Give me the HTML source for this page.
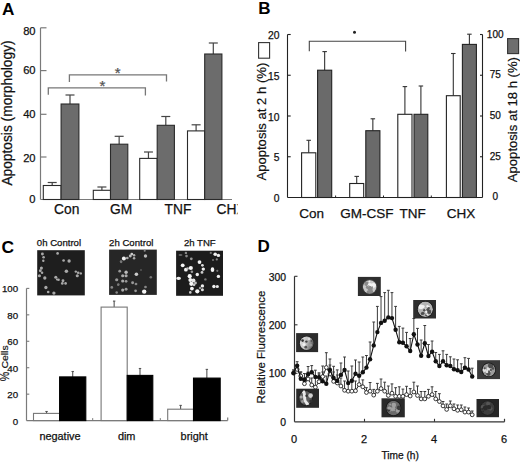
<!DOCTYPE html>
<html><head><meta charset="utf-8"><style>
html,body{margin:0;padding:0;background:#fff;}
svg{display:block;}
text{font-family:"Liberation Sans",sans-serif;}
</style></head><body>
<svg width="520" height="462" viewBox="0 0 520 462">
<rect x="0" y="0" width="520" height="462" fill="#fff"/>
<text x="2.0" y="15.4" font-size="17.2" text-anchor="start" font-weight="bold" fill="#000" >A</text>
<line x1="40.5" y1="27.8" x2="40.5" y2="199.5" stroke="#7a7a7a" stroke-width="1.2"/>
<line x1="40.5" y1="199.5" x2="232" y2="199.5" stroke="#7a7a7a" stroke-width="1.2"/>
<line x1="40.5" y1="27.8" x2="46.5" y2="27.8" stroke="#7a7a7a" stroke-width="1.2"/>
<line x1="40.5" y1="70.6" x2="46.5" y2="70.6" stroke="#7a7a7a" stroke-width="1.2"/>
<line x1="40.5" y1="114.3" x2="46.5" y2="114.3" stroke="#7a7a7a" stroke-width="1.2"/>
<line x1="40.5" y1="157" x2="46.5" y2="157" stroke="#7a7a7a" stroke-width="1.2"/>
<text x="35.6" y="34.8" font-size="11.2" text-anchor="end" font-weight="normal" fill="#111" stroke="#111" stroke-width="0.25" >80</text>
<text x="35.6" y="73.9" font-size="11.2" text-anchor="end" font-weight="normal" fill="#111" stroke="#111" stroke-width="0.25" >60</text>
<text x="35.6" y="118.3" font-size="11.2" text-anchor="end" font-weight="normal" fill="#111" stroke="#111" stroke-width="0.25" >40</text>
<text x="35.6" y="161.8" font-size="11.2" text-anchor="end" font-weight="normal" fill="#111" stroke="#111" stroke-width="0.25" >20</text>
<text x="35.6" y="203.3" font-size="11.2" text-anchor="end" font-weight="normal" fill="#111" stroke="#111" stroke-width="0.25" >0</text>
<text transform="translate(11.6,185.6) rotate(-90)" font-size="13.75" fill="#111" stroke="#111" stroke-width="0.25">Apoptosis (morphology)</text>
<line x1="52.2" y1="182.5" x2="52.2" y2="185.5" stroke="#444" stroke-width="1.2"/>
<line x1="47.7" y1="182.5" x2="56.7" y2="182.5" stroke="#444" stroke-width="1.2"/>
<rect x="43.3" y="185.5" width="17.800000000000004" height="14.0" fill="#fff" stroke="#2a2a2a" stroke-width="1.1"/>
<line x1="70.0" y1="95" x2="70.0" y2="104.0" stroke="#444" stroke-width="1.2"/>
<line x1="65.5" y1="95" x2="74.5" y2="95" stroke="#444" stroke-width="1.2"/>
<rect x="61.1" y="104.0" width="17.800000000000004" height="95.5" fill="#6c6c6c" stroke="#2a2a2a" stroke-width="1.1"/>
<line x1="101.9" y1="187" x2="101.9" y2="190.3" stroke="#444" stroke-width="1.2"/>
<line x1="97.4" y1="187" x2="106.4" y2="187" stroke="#444" stroke-width="1.2"/>
<rect x="93.3" y="190.3" width="17.200000000000003" height="9.199999999999989" fill="#fff" stroke="#2a2a2a" stroke-width="1.1"/>
<line x1="119.15" y1="136.3" x2="119.15" y2="144.2" stroke="#444" stroke-width="1.2"/>
<line x1="114.65" y1="136.3" x2="123.65" y2="136.3" stroke="#444" stroke-width="1.2"/>
<rect x="110.5" y="144.2" width="17.299999999999997" height="55.30000000000001" fill="#6c6c6c" stroke="#2a2a2a" stroke-width="1.1"/>
<line x1="148.45" y1="152" x2="148.45" y2="158.4" stroke="#444" stroke-width="1.2"/>
<line x1="143.95" y1="152" x2="152.95" y2="152" stroke="#444" stroke-width="1.2"/>
<rect x="139.7" y="158.4" width="17.5" height="41.099999999999994" fill="#fff" stroke="#2a2a2a" stroke-width="1.1"/>
<line x1="165.8" y1="116.5" x2="165.8" y2="125.3" stroke="#444" stroke-width="1.2"/>
<line x1="161.3" y1="116.5" x2="170.3" y2="116.5" stroke="#444" stroke-width="1.2"/>
<rect x="157.2" y="125.3" width="17.200000000000017" height="74.2" fill="#6c6c6c" stroke="#2a2a2a" stroke-width="1.1"/>
<line x1="196.1" y1="124.8" x2="196.1" y2="130.9" stroke="#444" stroke-width="1.2"/>
<line x1="191.6" y1="124.8" x2="200.6" y2="124.8" stroke="#444" stroke-width="1.2"/>
<rect x="187.5" y="130.9" width="17.19999999999999" height="68.6" fill="#fff" stroke="#2a2a2a" stroke-width="1.1"/>
<line x1="213.3" y1="43" x2="213.3" y2="54" stroke="#444" stroke-width="1.2"/>
<line x1="208.8" y1="43" x2="217.8" y2="43" stroke="#444" stroke-width="1.2"/>
<rect x="204.7" y="54" width="17.200000000000017" height="145.5" fill="#6c6c6c" stroke="#2a2a2a" stroke-width="1.1"/>
<polyline points="48.3,94.8 48.3,87.9 145.4,87.9 145.4,95.4" fill="none" stroke="#777" stroke-width="1.3"/>
<polyline points="69.4,82 69.4,74.8 166.5,74.8 166.5,81.5" fill="none" stroke="#777" stroke-width="1.3"/>
<text x="117.7" y="78.2" font-size="15" text-anchor="middle" font-weight="normal" fill="#555" stroke="#555" stroke-width="0.25" >*</text>
<text x="102.3" y="91.0" font-size="15" text-anchor="middle" font-weight="normal" fill="#555" stroke="#555" stroke-width="0.25" >*</text>
<clipPath id="cA"><rect x="0" y="0" width="237.6" height="231"/></clipPath>
<text x="54.1" y="213.9" font-size="13.8" fill="#111" stroke="#111" stroke-width="0.25" clip-path="url(#cA)">Con</text>
<text x="110.1" y="213.9" font-size="13.8" fill="#111" stroke="#111" stroke-width="0.25" clip-path="url(#cA)">GM</text>
<text x="164.5" y="213.9" font-size="13.8" fill="#111" stroke="#111" stroke-width="0.25" clip-path="url(#cA)">TNF</text>
<text x="216.6" y="213.9" font-size="13.8" fill="#111" stroke="#111" stroke-width="0.25" clip-path="url(#cA)">CHX</text>
<text x="258.2" y="13.6" font-size="17" text-anchor="start" font-weight="bold" fill="#000" >B</text>
<line x1="287.5" y1="34.5" x2="287.5" y2="197.5" stroke="#222" stroke-width="1.1"/>
<line x1="287.5" y1="197.5" x2="482.5" y2="197.5" stroke="#222" stroke-width="1.1"/>
<line x1="482.5" y1="34.5" x2="482.5" y2="197.5" stroke="#222" stroke-width="1.1"/>
<line x1="287.5" y1="34.5" x2="290.7" y2="34.5" stroke="#222" stroke-width="1.1"/>
<line x1="480.0" y1="34.5" x2="482.5" y2="34.5" stroke="#222" stroke-width="1.1"/>
<line x1="287.5" y1="75.25" x2="290.7" y2="75.25" stroke="#222" stroke-width="1.1"/>
<line x1="480.0" y1="75.25" x2="482.5" y2="75.25" stroke="#222" stroke-width="1.1"/>
<line x1="287.5" y1="116.0" x2="290.7" y2="116.0" stroke="#222" stroke-width="1.1"/>
<line x1="480.0" y1="116.0" x2="482.5" y2="116.0" stroke="#222" stroke-width="1.1"/>
<line x1="287.5" y1="156.75" x2="290.7" y2="156.75" stroke="#222" stroke-width="1.1"/>
<line x1="480.0" y1="156.75" x2="482.5" y2="156.75" stroke="#222" stroke-width="1.1"/>
<text x="279.5" y="39.0" font-size="10.3" text-anchor="end" font-weight="normal" fill="#111" stroke="#111" stroke-width="0.25" >20</text>
<text x="279.5" y="79.75" font-size="10.3" text-anchor="end" font-weight="normal" fill="#111" stroke="#111" stroke-width="0.25" >15</text>
<text x="279.5" y="120.5" font-size="10.3" text-anchor="end" font-weight="normal" fill="#111" stroke="#111" stroke-width="0.25" >10</text>
<text x="279.5" y="161.25" font-size="10.3" text-anchor="end" font-weight="normal" fill="#111" stroke="#111" stroke-width="0.25" >5</text>
<text x="279.5" y="202.0" font-size="10.3" text-anchor="end" font-weight="normal" fill="#111" stroke="#111" stroke-width="0.25" >0</text>
<text x="495.2" y="37.6" font-size="10" text-anchor="middle" font-weight="normal" fill="#111" stroke="#111" stroke-width="0.25" >100</text>
<text x="495.2" y="78.35" font-size="10" text-anchor="middle" font-weight="normal" fill="#111" stroke="#111" stroke-width="0.25" >75</text>
<text x="495.2" y="119.1" font-size="10" text-anchor="middle" font-weight="normal" fill="#111" stroke="#111" stroke-width="0.25" >50</text>
<text x="495.2" y="159.85" font-size="10" text-anchor="middle" font-weight="normal" fill="#111" stroke="#111" stroke-width="0.25" >25</text>
<text x="495.2" y="199.7" font-size="10" text-anchor="middle" font-weight="normal" fill="#111" stroke="#111" stroke-width="0.25" >0</text>
<line x1="335.6" y1="197.5" x2="335.6" y2="195.5" stroke="#222" stroke-width="1"/>
<line x1="383.5" y1="197.5" x2="383.5" y2="195.5" stroke="#222" stroke-width="1"/>
<line x1="431.3" y1="197.5" x2="431.3" y2="195.5" stroke="#222" stroke-width="1"/>
<rect x="258.6" y="42.6" width="11" height="15.6" fill="#fff" stroke="#333" stroke-width="1.1"/>
<rect x="507.6" y="38.6" width="11" height="15" fill="#6e6e6e" stroke="#333" stroke-width="1.1"/>
<text transform="translate(266.3,180.6) rotate(-90)" font-size="13.1" fill="#111" stroke="#111" stroke-width="0.2">Apoptosis at 2 h (%)</text>
<text transform="translate(516.9,182.2) rotate(-90)" font-size="13.1" fill="#111" stroke="#111" stroke-width="0.2">Apoptosis at 18 h (%)</text>
<line x1="308.70000000000005" y1="140.3" x2="308.70000000000005" y2="152.8" stroke="#333" stroke-width="1.1"/>
<line x1="306.45000000000005" y1="140.3" x2="310.95000000000005" y2="140.3" stroke="#333" stroke-width="1.1"/>
<rect x="301.6" y="152.8" width="14.199999999999989" height="44.69999999999999" fill="#fff" stroke="#222" stroke-width="1.1"/>
<line x1="324.65" y1="51.6" x2="324.65" y2="70.2" stroke="#333" stroke-width="1.1"/>
<line x1="322.4" y1="51.6" x2="326.9" y2="51.6" stroke="#333" stroke-width="1.1"/>
<rect x="317.6" y="70.2" width="14.099999999999966" height="127.3" fill="#6a6a6a" stroke="#222" stroke-width="1.1"/>
<line x1="356.7" y1="176.4" x2="356.7" y2="183.5" stroke="#333" stroke-width="1.1"/>
<line x1="354.45" y1="176.4" x2="358.95" y2="176.4" stroke="#333" stroke-width="1.1"/>
<rect x="349.7" y="183.5" width="14.0" height="14.0" fill="#fff" stroke="#222" stroke-width="1.1"/>
<line x1="372.85" y1="118.8" x2="372.85" y2="130.7" stroke="#333" stroke-width="1.1"/>
<line x1="370.6" y1="118.8" x2="375.1" y2="118.8" stroke="#333" stroke-width="1.1"/>
<rect x="365.8" y="130.7" width="14.099999999999966" height="66.80000000000001" fill="#6a6a6a" stroke="#222" stroke-width="1.1"/>
<line x1="404.9" y1="86.6" x2="404.9" y2="114.3" stroke="#333" stroke-width="1.1"/>
<line x1="402.65" y1="86.6" x2="407.15" y2="86.6" stroke="#333" stroke-width="1.1"/>
<rect x="397.8" y="114.3" width="14.199999999999989" height="83.2" fill="#fff" stroke="#222" stroke-width="1.1"/>
<line x1="420.9" y1="86" x2="420.9" y2="114.3" stroke="#333" stroke-width="1.1"/>
<line x1="418.65" y1="86" x2="423.15" y2="86" stroke="#333" stroke-width="1.1"/>
<rect x="414" y="114.3" width="13.800000000000011" height="83.2" fill="#6a6a6a" stroke="#222" stroke-width="1.1"/>
<line x1="453.29999999999995" y1="53.5" x2="453.29999999999995" y2="95.7" stroke="#333" stroke-width="1.1"/>
<line x1="451.04999999999995" y1="53.5" x2="455.54999999999995" y2="53.5" stroke="#333" stroke-width="1.1"/>
<rect x="446.4" y="95.7" width="13.800000000000011" height="101.8" fill="#fff" stroke="#222" stroke-width="1.1"/>
<line x1="469.4" y1="34.2" x2="469.4" y2="44.4" stroke="#333" stroke-width="1.1"/>
<line x1="467.15" y1="34.2" x2="471.65" y2="34.2" stroke="#333" stroke-width="1.1"/>
<rect x="462.4" y="44.4" width="14.0" height="153.1" fill="#6a6a6a" stroke="#222" stroke-width="1.1"/>
<polyline points="309.3,51.2 309.3,41.3 405.6,41.3 405.6,51.4" fill="none" stroke="#444" stroke-width="1.1"/>
<circle cx="354.5" cy="32.2" r="1.5" fill="#222"/>
<text x="299.2" y="217.7" font-size="13.5" text-anchor="start" font-weight="normal" fill="#111" stroke="#111" stroke-width="0.25" >Con</text>
<text x="340.3" y="217.7" font-size="13.5" text-anchor="start" font-weight="normal" fill="#111" stroke="#111" stroke-width="0.25" >GM-CSF</text>
<text x="399.5" y="217.7" font-size="13.5" text-anchor="start" font-weight="normal" fill="#111" stroke="#111" stroke-width="0.25" >TNF</text>
<text x="446.7" y="217.7" font-size="13.5" text-anchor="start" font-weight="normal" fill="#111" stroke="#111" stroke-width="0.25" >CHX</text>
<text x="1.6" y="252.8" font-size="17.4" text-anchor="start" font-weight="bold" fill="#000" >C</text>
<text x="36.8" y="246" font-size="9.6" text-anchor="start" font-weight="normal" fill="#111" stroke="#111" stroke-width="0.25" >0h Control</text>
<text x="109.1" y="246" font-size="9.6" text-anchor="start" font-weight="normal" fill="#111" stroke="#111" stroke-width="0.25" >2h Control</text>
<text x="183.9" y="246" font-size="9.6" text-anchor="start" font-weight="normal" fill="#111" stroke="#111" stroke-width="0.25" >2h TNF</text>
<defs><filter id="bl" x="-10%" y="-10%" width="120%" height="120%"><feGaussianBlur stdDeviation="0.45"/></filter><filter id="bl2" x="-10%" y="-10%" width="120%" height="120%"><feGaussianBlur stdDeviation="0.6"/></filter></defs>
<rect x="37.2" y="250.2" width="47.6" height="45.2" fill="#1e1e1e" stroke="none" stroke-width="0"/>
<g filter="url(#bl2)">
<circle cx="42.4" cy="254" r="1.4300000000000002" fill="#a8a8a8"/>
<circle cx="43.6" cy="257.2" r="1.32" fill="#a8a8a8"/>
<circle cx="43.3" cy="260.7" r="1.2100000000000002" fill="#a8a8a8"/>
<circle cx="57.6" cy="253.4" r="1.32" fill="#a8a8a8"/>
<circle cx="63.6" cy="260.5" r="1.32" fill="#a8a8a8"/>
<circle cx="69.1" cy="261" r="1.6500000000000001" fill="#a8a8a8"/>
<circle cx="41.4" cy="268.1" r="1.54" fill="#a8a8a8"/>
<circle cx="40.3" cy="270.7" r="1.4300000000000002" fill="#a8a8a8"/>
<circle cx="42.1" cy="272.7" r="1.2100000000000002" fill="#a8a8a8"/>
<circle cx="66.4" cy="271.2" r="1.7600000000000002" fill="#a8a8a8"/>
<circle cx="39.4" cy="275.7" r="1.54" fill="#a8a8a8"/>
<circle cx="44.8" cy="278" r="1.6500000000000001" fill="#a8a8a8"/>
<circle cx="55.8" cy="277.2" r="1.54" fill="#a8a8a8"/>
<circle cx="58.5" cy="279.8" r="1.32" fill="#a8a8a8"/>
<circle cx="63" cy="280.7" r="1.4300000000000002" fill="#a8a8a8"/>
<circle cx="62.3" cy="283.4" r="1.32" fill="#a8a8a8"/>
<circle cx="65.6" cy="283.4" r="1.32" fill="#a8a8a8"/>
<circle cx="75.8" cy="271.6" r="1.2100000000000002" fill="#a8a8a8"/>
<circle cx="78.2" cy="272.7" r="1.32" fill="#a8a8a8"/>
<circle cx="80.8" cy="273.4" r="1.2100000000000002" fill="#a8a8a8"/>
<circle cx="77.3" cy="275.7" r="1.54" fill="#a8a8a8"/>
<circle cx="45.9" cy="287.5" r="1.6500000000000001" fill="#a8a8a8"/>
<circle cx="48.2" cy="292" r="1.32" fill="#a8a8a8"/>
<circle cx="53.9" cy="293.1" r="1.6500000000000001" fill="#a8a8a8"/>
<circle cx="57" cy="279.5" r="1.1" fill="#a8a8a8"/>
</g>
<rect x="109.1" y="249.6" width="47.7" height="45.3" fill="#262626" stroke="none" stroke-width="0"/>
<g filter="url(#bl2)">
<circle cx="123.9" cy="258.6" r="1.9949999999999999" fill="#f0f0f0"/>
<circle cx="127.3" cy="258" r="1.3650000000000002" fill="#aaa"/>
<circle cx="130.3" cy="256" r="1.47" fill="#bbb"/>
<circle cx="131.8" cy="254" r="1.3650000000000002" fill="#ccc"/>
<circle cx="134.1" cy="255.2" r="1.26" fill="#aaa"/>
<circle cx="134.1" cy="258.3" r="1.26" fill="#aaa"/>
<circle cx="145.5" cy="256" r="1.6800000000000002" fill="#bbb"/>
<circle cx="121.2" cy="262" r="1.1550000000000002" fill="#777"/>
<circle cx="119.7" cy="271.2" r="1.3650000000000002" fill="#999"/>
<circle cx="126.1" cy="272.2" r="1.6800000000000002" fill="#bbb"/>
<circle cx="122.7" cy="275.7" r="1.5750000000000002" fill="#aaa"/>
<circle cx="126.1" cy="275.7" r="1.5750000000000002" fill="#aaa"/>
<circle cx="136.4" cy="274.2" r="1.785" fill="#ccc"/>
<circle cx="116.7" cy="279.8" r="1.5750000000000002" fill="#999"/>
<circle cx="122.7" cy="281" r="1.5750000000000002" fill="#aaa"/>
<circle cx="126.1" cy="281.3" r="1.3650000000000002" fill="#999"/>
<circle cx="132.6" cy="282.8" r="1.47" fill="#999"/>
<circle cx="136" cy="284" r="1.3650000000000002" fill="#888"/>
<circle cx="118.2" cy="284.8" r="1.1550000000000002" fill="#777"/>
<circle cx="111.8" cy="287.4" r="1.3650000000000002" fill="#888"/>
<circle cx="122.7" cy="290.1" r="1.5750000000000002" fill="#aaa"/>
<circle cx="126.1" cy="289.3" r="1.47" fill="#999"/>
<circle cx="135.6" cy="290.8" r="1.3650000000000002" fill="#999"/>
<circle cx="144.2" cy="291.6" r="2.205" fill="#f4f4f4"/>
<circle cx="116.7" cy="292.4" r="1.26" fill="#888"/>
<circle cx="145.5" cy="287" r="1.3650000000000002" fill="#888"/>
<circle cx="150.8" cy="277.2" r="1.26" fill="#777"/>
<circle cx="144.7" cy="250.8" r="1.05" fill="#888"/>
<circle cx="121" cy="261.5" r="1.2" fill="#777"/>
<circle cx="118.3" cy="284.5" r="1.2" fill="#777"/>
<circle cx="141" cy="270" r="1.0" fill="#555"/>
</g>
<rect x="176.1" y="250.7" width="46.9" height="45.1" fill="#1c1c1c" stroke="none" stroke-width="0"/>
<g filter="url(#bl)">
<circle cx="182.7" cy="265.3" r="1.9" fill="#f4f4f4"/>
<circle cx="185.9" cy="269.7" r="1.9" fill="#f4f4f4"/>
<circle cx="190.8" cy="268" r="2.1" fill="#f8f8f8"/>
<circle cx="199.5" cy="262.1" r="1.9" fill="#f4f4f4"/>
<circle cx="202.4" cy="265.3" r="1.4" fill="#ddd"/>
<circle cx="203.3" cy="269.1" r="1.7" fill="#eee"/>
<circle cx="197.3" cy="274.5" r="1.7" fill="#eee"/>
<circle cx="202" cy="272.4" r="1.4" fill="#ccc"/>
<circle cx="189.7" cy="276.2" r="2.1" fill="#f8f8f8"/>
<circle cx="190.3" cy="280" r="1.9" fill="#f4f4f4"/>
<circle cx="193.5" cy="280.5" r="1.9" fill="#e8e8e8"/>
<circle cx="191.3" cy="283.8" r="2.1" fill="#f8f8f8"/>
<circle cx="194" cy="284.8" r="1.4" fill="#ccc"/>
<circle cx="191.9" cy="288.6" r="1.9" fill="#f4f4f4"/>
<circle cx="197.3" cy="291.3" r="2.1" fill="#f8f8f8"/>
<circle cx="202.4" cy="285.9" r="1.7" fill="#eee"/>
<circle cx="202.4" cy="289.7" r="1.5" fill="#ddd"/>
<circle cx="190.3" cy="292.4" r="1.3" fill="#ccc"/>
<circle cx="213.9" cy="286.5" r="1.7" fill="#f0f0f0"/>
<circle cx="217.3" cy="286.5" r="1.6" fill="#e8e8e8"/>
<circle cx="215.2" cy="254.3" r="1.8" fill="#f0f0f0"/>
<circle cx="218.4" cy="255.4" r="1.7" fill="#eee"/>
<circle cx="191.3" cy="258.8" r="1.4" fill="#999"/>
<circle cx="186.5" cy="256.1" r="1.3" fill="#888"/>
<circle cx="185.9" cy="252.9" r="1.2" fill="#888"/>
<circle cx="210.8" cy="252.9" r="1.1" fill="#777"/>
<circle cx="216.8" cy="259.4" r="1.1" fill="#888"/>
<circle cx="187.6" cy="268.6" r="1.3" fill="#bbb"/>
<circle cx="191.9" cy="271.8" r="1.3" fill="#999"/>
<circle cx="205.4" cy="279.4" r="1.2" fill="#777"/>
<circle cx="217.3" cy="270.8" r="1.1" fill="#777"/>
<circle cx="218.4" cy="276.4" r="1.7" fill="#eee"/>
<circle cx="195.5" cy="283" r="1.4" fill="#bbb"/>
<circle cx="200" cy="288" r="1.2" fill="#999"/>
<circle cx="213" cy="260" r="1.0" fill="#777"/>
</g>
<g filter="url(#bl)"><ellipse cx="212.5" cy="269.7" rx="1.8" ry="2.4" fill="#f4f4f4"/><ellipse cx="178.6" cy="278.3" rx="2.4" ry="1.6" fill="#f0f0f0"/><ellipse cx="180.5" cy="255" rx="2" ry="0.9" fill="#666"/></g>
<line x1="26.5" y1="288.4" x2="26.5" y2="420.6" stroke="#7a7a7a" stroke-width="1.2"/>
<line x1="26.5" y1="420.6" x2="227.7" y2="420.6" stroke="#7a7a7a" stroke-width="1.2"/>
<line x1="227.7" y1="420.6" x2="227.7" y2="417.6" stroke="#7a7a7a" stroke-width="1.2"/>
<line x1="26.5" y1="288.4" x2="29.3" y2="288.4" stroke="#7a7a7a" stroke-width="1.1"/>
<line x1="26.5" y1="314.84" x2="29.3" y2="314.84" stroke="#7a7a7a" stroke-width="1.1"/>
<line x1="26.5" y1="341.28" x2="29.3" y2="341.28" stroke="#7a7a7a" stroke-width="1.1"/>
<line x1="26.5" y1="367.72" x2="29.3" y2="367.72" stroke="#7a7a7a" stroke-width="1.1"/>
<line x1="26.5" y1="394.16" x2="29.3" y2="394.16" stroke="#7a7a7a" stroke-width="1.1"/>
<text x="18.1" y="292.29999999999995" font-size="9.7" text-anchor="end" font-weight="normal" fill="#111" stroke="#111" stroke-width="0.25" >100</text>
<text x="18.1" y="318.73999999999995" font-size="9.7" text-anchor="end" font-weight="normal" fill="#111" stroke="#111" stroke-width="0.25" >80</text>
<text x="18.1" y="345.17999999999995" font-size="9.7" text-anchor="end" font-weight="normal" fill="#111" stroke="#111" stroke-width="0.25" >60</text>
<text x="18.1" y="371.92" font-size="9.7" text-anchor="end" font-weight="normal" fill="#111" stroke="#111" stroke-width="0.25" >40</text>
<text x="18.1" y="398.36" font-size="9.7" text-anchor="end" font-weight="normal" fill="#111" stroke="#111" stroke-width="0.25" >20</text>
<text x="18.1" y="424.8" font-size="9.7" text-anchor="end" font-weight="normal" fill="#111" stroke="#111" stroke-width="0.25" >0</text>
<line x1="92.7" y1="420.6" x2="92.7" y2="418.1" stroke="#7a7a7a" stroke-width="1"/>
<line x1="160.3" y1="420.6" x2="160.3" y2="418.1" stroke="#7a7a7a" stroke-width="1"/>
<text transform="translate(7.9,368.6) rotate(-90) scale(1,0.9)" font-size="10.5" fill="#111" stroke="#111" stroke-width="0.2">Cells</text>
<text transform="translate(8.8,381.2) rotate(-90) scale(1,1.12)" font-size="10.6" fill="#111" stroke="#111" stroke-width="0.2">%</text>
<line x1="46.55" y1="411.5" x2="46.55" y2="413.4" stroke="#555" stroke-width="1.1"/>
<line x1="45.349999999999994" y1="411.5" x2="47.75" y2="411.5" stroke="#555" stroke-width="1.1"/>
<rect x="33.5" y="413.4" width="26.1" height="7.2000000000000455" fill="#fff" stroke="#777" stroke-width="1.1"/>
<line x1="72.7" y1="371.5" x2="72.7" y2="376.9" stroke="#555" stroke-width="1.1"/>
<line x1="71.5" y1="371.5" x2="73.9" y2="371.5" stroke="#555" stroke-width="1.1"/>
<rect x="59.6" y="376.9" width="26.199999999999996" height="43.700000000000045" fill="#000" stroke="#000" stroke-width="1.1"/>
<line x1="114.15" y1="301.1" x2="114.15" y2="307.1" stroke="#555" stroke-width="1.1"/>
<line x1="112.95" y1="301.1" x2="115.35000000000001" y2="301.1" stroke="#555" stroke-width="1.1"/>
<rect x="101.1" y="307.1" width="26.10000000000001" height="113.5" fill="#fff" stroke="#777" stroke-width="1.1"/>
<line x1="140.0" y1="368.5" x2="140.0" y2="375.4" stroke="#555" stroke-width="1.1"/>
<line x1="138.8" y1="368.5" x2="141.2" y2="368.5" stroke="#555" stroke-width="1.1"/>
<rect x="127.2" y="375.4" width="25.60000000000001" height="45.200000000000045" fill="#000" stroke="#000" stroke-width="1.1"/>
<line x1="180.6" y1="405.4" x2="180.6" y2="409.2" stroke="#555" stroke-width="1.1"/>
<line x1="179.4" y1="405.4" x2="181.79999999999998" y2="405.4" stroke="#555" stroke-width="1.1"/>
<rect x="167.7" y="409.2" width="25.80000000000001" height="11.400000000000034" fill="#fff" stroke="#777" stroke-width="1.1"/>
<line x1="206.85" y1="369.4" x2="206.85" y2="378.1" stroke="#555" stroke-width="1.1"/>
<line x1="205.65" y1="369.4" x2="208.04999999999998" y2="369.4" stroke="#555" stroke-width="1.1"/>
<rect x="193.5" y="378.1" width="26.69999999999999" height="42.5" fill="#000" stroke="#000" stroke-width="1.1"/>
<text x="39.4" y="440" font-size="10.9" text-anchor="start" font-weight="normal" fill="#111" stroke="#111" stroke-width="0.25" >negative</text>
<text x="117.9" y="440" font-size="10.9" text-anchor="start" font-weight="normal" fill="#111" stroke="#111" stroke-width="0.25" >dim</text>
<text x="180.6" y="440" font-size="10.9" text-anchor="start" font-weight="normal" fill="#111" stroke="#111" stroke-width="0.25" >bright</text>
<text x="257.6" y="251.6" font-size="17" text-anchor="start" font-weight="bold" fill="#000" >D</text>
<line x1="294.5" y1="276.3" x2="294.5" y2="421.8" stroke="#333" stroke-width="1.2"/>
<line x1="294.5" y1="421.8" x2="504.5" y2="421.8" stroke="#333" stroke-width="1.2"/>
<line x1="504.5" y1="421.8" x2="504.5" y2="418.8" stroke="#333" stroke-width="1.2"/>
<line x1="294.5" y1="276.3" x2="297.5" y2="276.3" stroke="#333" stroke-width="1.1"/>
<line x1="294.5" y1="324.8" x2="297.5" y2="324.8" stroke="#333" stroke-width="1.1"/>
<line x1="294.5" y1="373.3" x2="297.5" y2="373.3" stroke="#333" stroke-width="1.1"/>
<line x1="364.5" y1="421.8" x2="364.5" y2="418.8" stroke="#333" stroke-width="1.1"/>
<line x1="434.5" y1="421.8" x2="434.5" y2="418.8" stroke="#333" stroke-width="1.1"/>
<text x="286" y="280.8" font-size="10.4" text-anchor="end" font-weight="normal" fill="#111" stroke="#111" stroke-width="0.25" >300</text>
<text x="286" y="328.7" font-size="10.4" text-anchor="end" font-weight="normal" fill="#111" stroke="#111" stroke-width="0.25" >200</text>
<text x="286" y="376.8" font-size="10.4" text-anchor="end" font-weight="normal" fill="#111" stroke="#111" stroke-width="0.25" >100</text>
<text x="286" y="425.7" font-size="10.4" text-anchor="end" font-weight="normal" fill="#111" stroke="#111" stroke-width="0.25" >0</text>
<text x="294.1" y="442.6" font-size="11" text-anchor="middle" font-weight="normal" fill="#111" stroke="#111" stroke-width="0.25" >0</text>
<text x="364.1" y="442.6" font-size="11" text-anchor="middle" font-weight="normal" fill="#111" stroke="#111" stroke-width="0.25" >2</text>
<text x="434.1" y="442.6" font-size="11" text-anchor="middle" font-weight="normal" fill="#111" stroke="#111" stroke-width="0.25" >4</text>
<text x="504.1" y="442.6" font-size="11" text-anchor="middle" font-weight="normal" fill="#111" stroke="#111" stroke-width="0.25" >6</text>
<text x="381.4" y="459.2" font-size="10.2" text-anchor="start" font-weight="normal" fill="#111" stroke="#111" stroke-width="0.25" >Time (h)</text>
<text transform="translate(265.1,403.4) rotate(-90)" font-size="11.4" fill="#111" stroke="#111" stroke-width="0.2">Relative Fluorescence</text>
<line x1="293.5" y1="370" x2="293.5" y2="373.1" stroke="#3a3a3a" stroke-width="1"/>
<line x1="292.1" y1="370" x2="294.9" y2="370" stroke="#3a3a3a" stroke-width="1"/>
<line x1="293.5" y1="370" x2="293.5" y2="373.1" stroke="#3a3a3a" stroke-width="1"/>
<line x1="292.1" y1="370" x2="294.9" y2="370" stroke="#3a3a3a" stroke-width="1"/>
<line x1="297.1469387755102" y1="366" x2="297.1469387755102" y2="369.4" stroke="#3a3a3a" stroke-width="1"/>
<line x1="295.7469387755102" y1="366" x2="298.54693877551017" y2="366" stroke="#3a3a3a" stroke-width="1"/>
<line x1="297.1469387755102" y1="361.7" x2="297.1469387755102" y2="365.8" stroke="#3a3a3a" stroke-width="1"/>
<line x1="295.7469387755102" y1="361.7" x2="298.54693877551017" y2="361.7" stroke="#3a3a3a" stroke-width="1"/>
<line x1="300.7938775510204" y1="372" x2="300.7938775510204" y2="376" stroke="#3a3a3a" stroke-width="1"/>
<line x1="299.3938775510204" y1="372" x2="302.19387755102036" y2="372" stroke="#3a3a3a" stroke-width="1"/>
<line x1="300.7938775510204" y1="372" x2="300.7938775510204" y2="378.8" stroke="#3a3a3a" stroke-width="1"/>
<line x1="299.3938775510204" y1="372" x2="302.19387755102036" y2="372" stroke="#3a3a3a" stroke-width="1"/>
<line x1="304.44081632653064" y1="378" x2="304.44081632653064" y2="383.7" stroke="#3a3a3a" stroke-width="1"/>
<line x1="303.04081632653066" y1="378" x2="305.8408163265306" y2="378" stroke="#3a3a3a" stroke-width="1"/>
<line x1="304.44081632653064" y1="373.5" x2="304.44081632653064" y2="379.8" stroke="#3a3a3a" stroke-width="1"/>
<line x1="303.04081632653066" y1="373.5" x2="305.8408163265306" y2="373.5" stroke="#3a3a3a" stroke-width="1"/>
<line x1="308.08775510204083" y1="372" x2="308.08775510204083" y2="379" stroke="#3a3a3a" stroke-width="1"/>
<line x1="306.68775510204085" y1="372" x2="309.4877551020408" y2="372" stroke="#3a3a3a" stroke-width="1"/>
<line x1="308.08775510204083" y1="366.5" x2="308.08775510204083" y2="374.2" stroke="#3a3a3a" stroke-width="1"/>
<line x1="306.68775510204085" y1="366.5" x2="309.4877551020408" y2="366.5" stroke="#3a3a3a" stroke-width="1"/>
<line x1="311.734693877551" y1="378" x2="311.734693877551" y2="385" stroke="#3a3a3a" stroke-width="1"/>
<line x1="310.33469387755105" y1="378" x2="313.134693877551" y2="378" stroke="#3a3a3a" stroke-width="1"/>
<line x1="311.734693877551" y1="365.6" x2="311.734693877551" y2="372.3" stroke="#3a3a3a" stroke-width="1"/>
<line x1="310.33469387755105" y1="365.6" x2="313.134693877551" y2="365.6" stroke="#3a3a3a" stroke-width="1"/>
<line x1="315.3816326530612" y1="378" x2="315.3816326530612" y2="387.2" stroke="#3a3a3a" stroke-width="1"/>
<line x1="313.98163265306124" y1="378" x2="316.7816326530612" y2="378" stroke="#3a3a3a" stroke-width="1"/>
<line x1="315.3816326530612" y1="370.2" x2="315.3816326530612" y2="376.9" stroke="#3a3a3a" stroke-width="1"/>
<line x1="313.98163265306124" y1="370.2" x2="316.7816326530612" y2="370.2" stroke="#3a3a3a" stroke-width="1"/>
<line x1="319.0285714285714" y1="374" x2="319.0285714285714" y2="381.7" stroke="#3a3a3a" stroke-width="1"/>
<line x1="317.62857142857143" y1="374" x2="320.4285714285714" y2="374" stroke="#3a3a3a" stroke-width="1"/>
<line x1="319.0285714285714" y1="372.8" x2="319.0285714285714" y2="377.3" stroke="#3a3a3a" stroke-width="1"/>
<line x1="317.62857142857143" y1="372.8" x2="320.4285714285714" y2="372.8" stroke="#3a3a3a" stroke-width="1"/>
<line x1="322.67551020408166" y1="366" x2="322.67551020408166" y2="376.6" stroke="#3a3a3a" stroke-width="1"/>
<line x1="321.2755102040817" y1="366" x2="324.07551020408164" y2="366" stroke="#3a3a3a" stroke-width="1"/>
<line x1="322.67551020408166" y1="372" x2="322.67551020408166" y2="381.2" stroke="#3a3a3a" stroke-width="1"/>
<line x1="321.2755102040817" y1="372" x2="324.07551020408164" y2="372" stroke="#3a3a3a" stroke-width="1"/>
<line x1="326.32244897959185" y1="352.7" x2="326.32244897959185" y2="367.5" stroke="#3a3a3a" stroke-width="1"/>
<line x1="324.9224489795919" y1="352.7" x2="327.72244897959183" y2="352.7" stroke="#3a3a3a" stroke-width="1"/>
<line x1="326.32244897959185" y1="376" x2="326.32244897959185" y2="383.8" stroke="#3a3a3a" stroke-width="1"/>
<line x1="324.9224489795919" y1="376" x2="327.72244897959183" y2="376" stroke="#3a3a3a" stroke-width="1"/>
<line x1="329.96938775510205" y1="365" x2="329.96938775510205" y2="374" stroke="#3a3a3a" stroke-width="1"/>
<line x1="328.56938775510207" y1="365" x2="331.369387755102" y2="365" stroke="#3a3a3a" stroke-width="1"/>
<line x1="329.96938775510205" y1="359" x2="329.96938775510205" y2="369.9" stroke="#3a3a3a" stroke-width="1"/>
<line x1="328.56938775510207" y1="359" x2="331.369387755102" y2="359" stroke="#3a3a3a" stroke-width="1"/>
<line x1="333.61632653061224" y1="372" x2="333.61632653061224" y2="381.4" stroke="#3a3a3a" stroke-width="1"/>
<line x1="332.21632653061226" y1="372" x2="335.0163265306122" y2="372" stroke="#3a3a3a" stroke-width="1"/>
<line x1="333.61632653061224" y1="366.3" x2="333.61632653061224" y2="377.9" stroke="#3a3a3a" stroke-width="1"/>
<line x1="332.21632653061226" y1="366.3" x2="335.0163265306122" y2="366.3" stroke="#3a3a3a" stroke-width="1"/>
<line x1="337.26326530612243" y1="375" x2="337.26326530612243" y2="383" stroke="#3a3a3a" stroke-width="1"/>
<line x1="335.86326530612246" y1="375" x2="338.6632653061224" y2="375" stroke="#3a3a3a" stroke-width="1"/>
<line x1="337.26326530612243" y1="369.9" x2="337.26326530612243" y2="380.9" stroke="#3a3a3a" stroke-width="1"/>
<line x1="335.86326530612246" y1="369.9" x2="338.6632653061224" y2="369.9" stroke="#3a3a3a" stroke-width="1"/>
<line x1="340.9102040816326" y1="378" x2="340.9102040816326" y2="386" stroke="#3a3a3a" stroke-width="1"/>
<line x1="339.51020408163265" y1="378" x2="342.3102040816326" y2="378" stroke="#3a3a3a" stroke-width="1"/>
<line x1="340.9102040816326" y1="363" x2="340.9102040816326" y2="374.9" stroke="#3a3a3a" stroke-width="1"/>
<line x1="339.51020408163265" y1="363" x2="342.3102040816326" y2="363" stroke="#3a3a3a" stroke-width="1"/>
<line x1="344.5571428571428" y1="381" x2="344.5571428571428" y2="390.3" stroke="#3a3a3a" stroke-width="1"/>
<line x1="343.15714285714284" y1="381" x2="345.9571428571428" y2="381" stroke="#3a3a3a" stroke-width="1"/>
<line x1="344.5571428571428" y1="357" x2="344.5571428571428" y2="370" stroke="#3a3a3a" stroke-width="1"/>
<line x1="343.15714285714284" y1="357" x2="345.9571428571428" y2="357" stroke="#3a3a3a" stroke-width="1"/>
<line x1="348.2040816326531" y1="382" x2="348.2040816326531" y2="391.2" stroke="#3a3a3a" stroke-width="1"/>
<line x1="346.8040816326531" y1="382" x2="349.60408163265305" y2="382" stroke="#3a3a3a" stroke-width="1"/>
<line x1="348.2040816326531" y1="371" x2="348.2040816326531" y2="383.1" stroke="#3a3a3a" stroke-width="1"/>
<line x1="346.8040816326531" y1="371" x2="349.60408163265305" y2="371" stroke="#3a3a3a" stroke-width="1"/>
<line x1="351.85102040816327" y1="382" x2="351.85102040816327" y2="391.2" stroke="#3a3a3a" stroke-width="1"/>
<line x1="350.4510204081633" y1="382" x2="353.25102040816324" y2="382" stroke="#3a3a3a" stroke-width="1"/>
<line x1="351.85102040816327" y1="366" x2="351.85102040816327" y2="380.8" stroke="#3a3a3a" stroke-width="1"/>
<line x1="350.4510204081633" y1="366" x2="353.25102040816324" y2="366" stroke="#3a3a3a" stroke-width="1"/>
<line x1="355.49795918367346" y1="381" x2="355.49795918367346" y2="390.8" stroke="#3a3a3a" stroke-width="1"/>
<line x1="354.0979591836735" y1="381" x2="356.89795918367344" y2="381" stroke="#3a3a3a" stroke-width="1"/>
<line x1="355.49795918367346" y1="360" x2="355.49795918367346" y2="373.8" stroke="#3a3a3a" stroke-width="1"/>
<line x1="354.0979591836735" y1="360" x2="356.89795918367344" y2="360" stroke="#3a3a3a" stroke-width="1"/>
<line x1="359.14489795918365" y1="375" x2="359.14489795918365" y2="384.6" stroke="#3a3a3a" stroke-width="1"/>
<line x1="357.7448979591837" y1="375" x2="360.54489795918363" y2="375" stroke="#3a3a3a" stroke-width="1"/>
<line x1="359.14489795918365" y1="362" x2="359.14489795918365" y2="375.8" stroke="#3a3a3a" stroke-width="1"/>
<line x1="357.7448979591837" y1="362" x2="360.54489795918363" y2="362" stroke="#3a3a3a" stroke-width="1"/>
<line x1="362.7918367346939" y1="379.9" x2="362.7918367346939" y2="386.8" stroke="#3a3a3a" stroke-width="1"/>
<line x1="361.3918367346939" y1="379.9" x2="364.1918367346939" y2="379.9" stroke="#3a3a3a" stroke-width="1"/>
<line x1="362.7918367346939" y1="357" x2="362.7918367346939" y2="372.3" stroke="#3a3a3a" stroke-width="1"/>
<line x1="361.3918367346939" y1="357" x2="364.1918367346939" y2="357" stroke="#3a3a3a" stroke-width="1"/>
<line x1="366.4387755102041" y1="387.7" x2="366.4387755102041" y2="392.5" stroke="#3a3a3a" stroke-width="1"/>
<line x1="365.0387755102041" y1="387.7" x2="367.8387755102041" y2="387.7" stroke="#3a3a3a" stroke-width="1"/>
<line x1="366.4387755102041" y1="355.5" x2="366.4387755102041" y2="367.6" stroke="#3a3a3a" stroke-width="1"/>
<line x1="365.0387755102041" y1="355.5" x2="367.8387755102041" y2="355.5" stroke="#3a3a3a" stroke-width="1"/>
<line x1="370.0857142857143" y1="382.5" x2="370.0857142857143" y2="391.2" stroke="#3a3a3a" stroke-width="1"/>
<line x1="368.6857142857143" y1="382.5" x2="371.48571428571427" y2="382.5" stroke="#3a3a3a" stroke-width="1"/>
<line x1="370.0857142857143" y1="342" x2="370.0857142857143" y2="359.3" stroke="#3a3a3a" stroke-width="1"/>
<line x1="368.6857142857143" y1="342" x2="371.48571428571427" y2="342" stroke="#3a3a3a" stroke-width="1"/>
<line x1="373.7326530612245" y1="389.4" x2="373.7326530612245" y2="395.1" stroke="#3a3a3a" stroke-width="1"/>
<line x1="372.3326530612245" y1="389.4" x2="375.13265306122446" y2="389.4" stroke="#3a3a3a" stroke-width="1"/>
<line x1="373.7326530612245" y1="322" x2="373.7326530612245" y2="345.4" stroke="#3a3a3a" stroke-width="1"/>
<line x1="372.3326530612245" y1="322" x2="375.13265306122446" y2="322" stroke="#3a3a3a" stroke-width="1"/>
<line x1="377.3795918367347" y1="383.4" x2="377.3795918367347" y2="391.2" stroke="#3a3a3a" stroke-width="1"/>
<line x1="375.9795918367347" y1="383.4" x2="378.77959183673465" y2="383.4" stroke="#3a3a3a" stroke-width="1"/>
<line x1="377.3795918367347" y1="306.4" x2="377.3795918367347" y2="332.1" stroke="#3a3a3a" stroke-width="1"/>
<line x1="375.9795918367347" y1="306.4" x2="378.77959183673465" y2="306.4" stroke="#3a3a3a" stroke-width="1"/>
<line x1="381.02653061224487" y1="379" x2="381.02653061224487" y2="388.6" stroke="#3a3a3a" stroke-width="1"/>
<line x1="379.6265306122449" y1="379" x2="382.42653061224485" y2="379" stroke="#3a3a3a" stroke-width="1"/>
<line x1="381.02653061224487" y1="296.6" x2="381.02653061224487" y2="322.9" stroke="#3a3a3a" stroke-width="1"/>
<line x1="379.6265306122449" y1="296.6" x2="382.42653061224485" y2="296.6" stroke="#3a3a3a" stroke-width="1"/>
<line x1="384.6734693877551" y1="382.2" x2="384.6734693877551" y2="391.2" stroke="#3a3a3a" stroke-width="1"/>
<line x1="383.27346938775514" y1="382.2" x2="386.0734693877551" y2="382.2" stroke="#3a3a3a" stroke-width="1"/>
<line x1="384.6734693877551" y1="292.6" x2="384.6734693877551" y2="320.8" stroke="#3a3a3a" stroke-width="1"/>
<line x1="383.27346938775514" y1="292.6" x2="386.0734693877551" y2="292.6" stroke="#3a3a3a" stroke-width="1"/>
<line x1="388.3204081632653" y1="386" x2="388.3204081632653" y2="395.5" stroke="#3a3a3a" stroke-width="1"/>
<line x1="386.92040816326534" y1="386" x2="389.7204081632653" y2="386" stroke="#3a3a3a" stroke-width="1"/>
<line x1="388.3204081632653" y1="290.3" x2="388.3204081632653" y2="317.4" stroke="#3a3a3a" stroke-width="1"/>
<line x1="386.92040816326534" y1="290.3" x2="389.7204081632653" y2="290.3" stroke="#3a3a3a" stroke-width="1"/>
<line x1="391.9673469387755" y1="383.9" x2="391.9673469387755" y2="393.2" stroke="#3a3a3a" stroke-width="1"/>
<line x1="390.56734693877553" y1="383.9" x2="393.3673469387755" y2="383.9" stroke="#3a3a3a" stroke-width="1"/>
<line x1="391.9673469387755" y1="292.6" x2="391.9673469387755" y2="318.1" stroke="#3a3a3a" stroke-width="1"/>
<line x1="390.56734693877553" y1="292.6" x2="393.3673469387755" y2="292.6" stroke="#3a3a3a" stroke-width="1"/>
<line x1="395.6142857142857" y1="387.7" x2="395.6142857142857" y2="396.3" stroke="#3a3a3a" stroke-width="1"/>
<line x1="394.2142857142857" y1="387.7" x2="397.0142857142857" y2="387.7" stroke="#3a3a3a" stroke-width="1"/>
<line x1="395.6142857142857" y1="306.4" x2="395.6142857142857" y2="329.8" stroke="#3a3a3a" stroke-width="1"/>
<line x1="394.2142857142857" y1="306.4" x2="397.0142857142857" y2="306.4" stroke="#3a3a3a" stroke-width="1"/>
<line x1="399.2612244897959" y1="386.8" x2="399.2612244897959" y2="396.3" stroke="#3a3a3a" stroke-width="1"/>
<line x1="397.8612244897959" y1="386.8" x2="400.66122448979587" y2="386.8" stroke="#3a3a3a" stroke-width="1"/>
<line x1="399.2612244897959" y1="326.4" x2="399.2612244897959" y2="342.3" stroke="#3a3a3a" stroke-width="1"/>
<line x1="397.8612244897959" y1="326.4" x2="400.66122448979587" y2="326.4" stroke="#3a3a3a" stroke-width="1"/>
<line x1="402.90816326530614" y1="389.1" x2="402.90816326530614" y2="396.3" stroke="#3a3a3a" stroke-width="1"/>
<line x1="401.50816326530617" y1="389.1" x2="404.3081632653061" y2="389.1" stroke="#3a3a3a" stroke-width="1"/>
<line x1="402.90816326530614" y1="328.1" x2="402.90816326530614" y2="342.8" stroke="#3a3a3a" stroke-width="1"/>
<line x1="401.50816326530617" y1="328.1" x2="404.3081632653061" y2="328.1" stroke="#3a3a3a" stroke-width="1"/>
<line x1="406.55510204081634" y1="386.3" x2="406.55510204081634" y2="394.6" stroke="#3a3a3a" stroke-width="1"/>
<line x1="405.15510204081636" y1="386.3" x2="407.9551020408163" y2="386.3" stroke="#3a3a3a" stroke-width="1"/>
<line x1="406.55510204081634" y1="332.4" x2="406.55510204081634" y2="346.3" stroke="#3a3a3a" stroke-width="1"/>
<line x1="405.15510204081636" y1="332.4" x2="407.9551020408163" y2="332.4" stroke="#3a3a3a" stroke-width="1"/>
<line x1="410.20204081632653" y1="388.6" x2="410.20204081632653" y2="396" stroke="#3a3a3a" stroke-width="1"/>
<line x1="408.80204081632655" y1="388.6" x2="411.6020408163265" y2="388.6" stroke="#3a3a3a" stroke-width="1"/>
<line x1="410.20204081632653" y1="338.5" x2="410.20204081632653" y2="351" stroke="#3a3a3a" stroke-width="1"/>
<line x1="408.80204081632655" y1="338.5" x2="411.6020408163265" y2="338.5" stroke="#3a3a3a" stroke-width="1"/>
<line x1="413.8489795918367" y1="382.2" x2="413.8489795918367" y2="392" stroke="#3a3a3a" stroke-width="1"/>
<line x1="412.44897959183675" y1="382.2" x2="415.2489795918367" y2="382.2" stroke="#3a3a3a" stroke-width="1"/>
<line x1="413.8489795918367" y1="318.5" x2="413.8489795918367" y2="334.2" stroke="#3a3a3a" stroke-width="1"/>
<line x1="412.44897959183675" y1="318.5" x2="415.2489795918367" y2="318.5" stroke="#3a3a3a" stroke-width="1"/>
<line x1="417.4959183673469" y1="386" x2="417.4959183673469" y2="395.5" stroke="#3a3a3a" stroke-width="1"/>
<line x1="416.09591836734694" y1="386" x2="418.8959183673469" y2="386" stroke="#3a3a3a" stroke-width="1"/>
<line x1="417.4959183673469" y1="328.4" x2="417.4959183673469" y2="344.5" stroke="#3a3a3a" stroke-width="1"/>
<line x1="416.09591836734694" y1="328.4" x2="418.8959183673469" y2="328.4" stroke="#3a3a3a" stroke-width="1"/>
<line x1="421.1428571428571" y1="391.5" x2="421.1428571428571" y2="398.9" stroke="#3a3a3a" stroke-width="1"/>
<line x1="419.74285714285713" y1="391.5" x2="422.5428571428571" y2="391.5" stroke="#3a3a3a" stroke-width="1"/>
<line x1="421.1428571428571" y1="340" x2="421.1428571428571" y2="355.8" stroke="#3a3a3a" stroke-width="1"/>
<line x1="419.74285714285713" y1="340" x2="422.5428571428571" y2="340" stroke="#3a3a3a" stroke-width="1"/>
<line x1="424.7897959183673" y1="391.5" x2="424.7897959183673" y2="398.9" stroke="#3a3a3a" stroke-width="1"/>
<line x1="423.3897959183673" y1="391.5" x2="426.1897959183673" y2="391.5" stroke="#3a3a3a" stroke-width="1"/>
<line x1="424.7897959183673" y1="325.5" x2="424.7897959183673" y2="343.3" stroke="#3a3a3a" stroke-width="1"/>
<line x1="423.3897959183673" y1="325.5" x2="426.1897959183673" y2="325.5" stroke="#3a3a3a" stroke-width="1"/>
<line x1="428.43673469387755" y1="389.4" x2="428.43673469387755" y2="396.3" stroke="#3a3a3a" stroke-width="1"/>
<line x1="427.0367346938776" y1="389.4" x2="429.83673469387753" y2="389.4" stroke="#3a3a3a" stroke-width="1"/>
<line x1="428.43673469387755" y1="344.5" x2="428.43673469387755" y2="356.1" stroke="#3a3a3a" stroke-width="1"/>
<line x1="427.0367346938776" y1="344.5" x2="429.83673469387753" y2="344.5" stroke="#3a3a3a" stroke-width="1"/>
<line x1="432.08367346938775" y1="386.8" x2="432.08367346938775" y2="394.6" stroke="#3a3a3a" stroke-width="1"/>
<line x1="430.68367346938777" y1="386.8" x2="433.4836734693877" y2="386.8" stroke="#3a3a3a" stroke-width="1"/>
<line x1="432.08367346938775" y1="341" x2="432.08367346938775" y2="351.7" stroke="#3a3a3a" stroke-width="1"/>
<line x1="430.68367346938777" y1="341" x2="433.4836734693877" y2="341" stroke="#3a3a3a" stroke-width="1"/>
<line x1="435.73061224489794" y1="391.5" x2="435.73061224489794" y2="398.9" stroke="#3a3a3a" stroke-width="1"/>
<line x1="434.33061224489796" y1="391.5" x2="437.1306122448979" y2="391.5" stroke="#3a3a3a" stroke-width="1"/>
<line x1="435.73061224489794" y1="352.5" x2="435.73061224489794" y2="361.2" stroke="#3a3a3a" stroke-width="1"/>
<line x1="434.33061224489796" y1="352.5" x2="437.1306122448979" y2="352.5" stroke="#3a3a3a" stroke-width="1"/>
<line x1="439.3775510204082" y1="393.7" x2="439.3775510204082" y2="401.5" stroke="#3a3a3a" stroke-width="1"/>
<line x1="437.9775510204082" y1="393.7" x2="440.77755102040817" y2="393.7" stroke="#3a3a3a" stroke-width="1"/>
<line x1="439.3775510204082" y1="354.4" x2="439.3775510204082" y2="366" stroke="#3a3a3a" stroke-width="1"/>
<line x1="437.9775510204082" y1="354.4" x2="440.77755102040817" y2="354.4" stroke="#3a3a3a" stroke-width="1"/>
<line x1="443.0244897959184" y1="401.5" x2="443.0244897959184" y2="405.9" stroke="#3a3a3a" stroke-width="1"/>
<line x1="441.6244897959184" y1="401.5" x2="444.42448979591836" y2="401.5" stroke="#3a3a3a" stroke-width="1"/>
<line x1="443.0244897959184" y1="350.8" x2="443.0244897959184" y2="361.3" stroke="#3a3a3a" stroke-width="1"/>
<line x1="441.6244897959184" y1="350.8" x2="444.42448979591836" y2="350.8" stroke="#3a3a3a" stroke-width="1"/>
<line x1="446.6714285714286" y1="404" x2="446.6714285714286" y2="409.4" stroke="#3a3a3a" stroke-width="1"/>
<line x1="445.2714285714286" y1="404" x2="448.07142857142856" y2="404" stroke="#3a3a3a" stroke-width="1"/>
<line x1="446.6714285714286" y1="354.4" x2="446.6714285714286" y2="365.2" stroke="#3a3a3a" stroke-width="1"/>
<line x1="445.2714285714286" y1="354.4" x2="448.07142857142856" y2="354.4" stroke="#3a3a3a" stroke-width="1"/>
<line x1="450.31836734693877" y1="401" x2="450.31836734693877" y2="405.8" stroke="#3a3a3a" stroke-width="1"/>
<line x1="448.9183673469388" y1="401" x2="451.71836734693875" y2="401" stroke="#3a3a3a" stroke-width="1"/>
<line x1="450.31836734693877" y1="356.8" x2="450.31836734693877" y2="366" stroke="#3a3a3a" stroke-width="1"/>
<line x1="448.9183673469388" y1="356.8" x2="451.71836734693875" y2="356.8" stroke="#3a3a3a" stroke-width="1"/>
<line x1="453.96530612244896" y1="404" x2="453.96530612244896" y2="408.8" stroke="#3a3a3a" stroke-width="1"/>
<line x1="452.565306122449" y1="404" x2="455.36530612244894" y2="404" stroke="#3a3a3a" stroke-width="1"/>
<line x1="453.96530612244896" y1="359" x2="453.96530612244896" y2="369.3" stroke="#3a3a3a" stroke-width="1"/>
<line x1="452.565306122449" y1="359" x2="455.36530612244894" y2="359" stroke="#3a3a3a" stroke-width="1"/>
<line x1="457.61224489795916" y1="405" x2="457.61224489795916" y2="410.3" stroke="#3a3a3a" stroke-width="1"/>
<line x1="456.2122448979592" y1="405" x2="459.01224489795914" y2="405" stroke="#3a3a3a" stroke-width="1"/>
<line x1="457.61224489795916" y1="359.8" x2="457.61224489795916" y2="370.3" stroke="#3a3a3a" stroke-width="1"/>
<line x1="456.2122448979592" y1="359.8" x2="459.01224489795914" y2="359.8" stroke="#3a3a3a" stroke-width="1"/>
<line x1="461.25918367346935" y1="405" x2="461.25918367346935" y2="409.8" stroke="#3a3a3a" stroke-width="1"/>
<line x1="459.8591836734694" y1="405" x2="462.65918367346933" y2="405" stroke="#3a3a3a" stroke-width="1"/>
<line x1="461.25918367346935" y1="363.8" x2="461.25918367346935" y2="372" stroke="#3a3a3a" stroke-width="1"/>
<line x1="459.8591836734694" y1="363.8" x2="462.65918367346933" y2="363.8" stroke="#3a3a3a" stroke-width="1"/>
<line x1="464.90612244897954" y1="407" x2="464.90612244897954" y2="412.1" stroke="#3a3a3a" stroke-width="1"/>
<line x1="463.50612244897957" y1="407" x2="466.3061224489795" y2="407" stroke="#3a3a3a" stroke-width="1"/>
<line x1="464.90612244897954" y1="357.7" x2="464.90612244897954" y2="367.8" stroke="#3a3a3a" stroke-width="1"/>
<line x1="463.50612244897957" y1="357.7" x2="466.3061224489795" y2="357.7" stroke="#3a3a3a" stroke-width="1"/>
<line x1="468.55306122448974" y1="408" x2="468.55306122448974" y2="412.1" stroke="#3a3a3a" stroke-width="1"/>
<line x1="467.15306122448976" y1="408" x2="469.9530612244897" y2="408" stroke="#3a3a3a" stroke-width="1"/>
<line x1="468.55306122448974" y1="358.4" x2="468.55306122448974" y2="369.5" stroke="#3a3a3a" stroke-width="1"/>
<line x1="467.15306122448976" y1="358.4" x2="469.9530612244897" y2="358.4" stroke="#3a3a3a" stroke-width="1"/>
<line x1="472.2" y1="411" x2="472.2" y2="414.8" stroke="#3a3a3a" stroke-width="1"/>
<line x1="470.8" y1="411" x2="473.59999999999997" y2="411" stroke="#3a3a3a" stroke-width="1"/>
<line x1="472.2" y1="368.2" x2="472.2" y2="376.5" stroke="#3a3a3a" stroke-width="1"/>
<line x1="470.8" y1="368.2" x2="473.59999999999997" y2="368.2" stroke="#3a3a3a" stroke-width="1"/>
<polyline points="293.5,373.1 297.1469387755102,369.4 300.7938775510204,376 304.44081632653064,383.7 308.08775510204083,379 311.734693877551,385 315.3816326530612,387.2 319.0285714285714,381.7 322.67551020408166,376.6 326.32244897959185,367.5 329.96938775510205,374 333.61632653061224,381.4 337.26326530612243,383 340.9102040816326,386 344.5571428571428,390.3 348.2040816326531,391.2 351.85102040816327,391.2 355.49795918367346,390.8 359.14489795918365,384.6 362.7918367346939,386.8 366.4387755102041,392.5 370.0857142857143,391.2 373.7326530612245,395.1 377.3795918367347,391.2 381.02653061224487,388.6 384.6734693877551,391.2 388.3204081632653,395.5 391.9673469387755,393.2 395.6142857142857,396.3 399.2612244897959,396.3 402.90816326530614,396.3 406.55510204081634,394.6 410.20204081632653,396 413.8489795918367,392 417.4959183673469,395.5 421.1428571428571,398.9 424.7897959183673,398.9 428.43673469387755,396.3 432.08367346938775,394.6 435.73061224489794,398.9 439.3775510204082,401.5 443.0244897959184,405.9 446.6714285714286,409.4 450.31836734693877,405.8 453.96530612244896,408.8 457.61224489795916,410.3 461.25918367346935,409.8 464.90612244897954,412.1 468.55306122448974,412.1 472.2,414.8" fill="none" stroke="#222" stroke-width="1"/>
<circle cx="293.50" cy="373.1" r="1.9" fill="#fff" stroke="#222" stroke-width="0.9"/>
<circle cx="297.15" cy="369.4" r="1.9" fill="#fff" stroke="#222" stroke-width="0.9"/>
<circle cx="300.79" cy="376" r="1.9" fill="#fff" stroke="#222" stroke-width="0.9"/>
<circle cx="304.44" cy="383.7" r="1.9" fill="#fff" stroke="#222" stroke-width="0.9"/>
<circle cx="308.09" cy="379" r="1.9" fill="#fff" stroke="#222" stroke-width="0.9"/>
<circle cx="311.73" cy="385" r="1.9" fill="#fff" stroke="#222" stroke-width="0.9"/>
<circle cx="315.38" cy="387.2" r="1.9" fill="#fff" stroke="#222" stroke-width="0.9"/>
<circle cx="319.03" cy="381.7" r="1.9" fill="#fff" stroke="#222" stroke-width="0.9"/>
<circle cx="322.68" cy="376.6" r="1.9" fill="#fff" stroke="#222" stroke-width="0.9"/>
<circle cx="326.32" cy="367.5" r="1.9" fill="#fff" stroke="#222" stroke-width="0.9"/>
<circle cx="329.97" cy="374" r="1.9" fill="#fff" stroke="#222" stroke-width="0.9"/>
<circle cx="333.62" cy="381.4" r="1.9" fill="#fff" stroke="#222" stroke-width="0.9"/>
<circle cx="337.26" cy="383" r="1.9" fill="#fff" stroke="#222" stroke-width="0.9"/>
<circle cx="340.91" cy="386" r="1.9" fill="#fff" stroke="#222" stroke-width="0.9"/>
<circle cx="344.56" cy="390.3" r="1.9" fill="#fff" stroke="#222" stroke-width="0.9"/>
<circle cx="348.20" cy="391.2" r="1.9" fill="#fff" stroke="#222" stroke-width="0.9"/>
<circle cx="351.85" cy="391.2" r="1.9" fill="#fff" stroke="#222" stroke-width="0.9"/>
<circle cx="355.50" cy="390.8" r="1.9" fill="#fff" stroke="#222" stroke-width="0.9"/>
<circle cx="359.14" cy="384.6" r="1.9" fill="#fff" stroke="#222" stroke-width="0.9"/>
<circle cx="362.79" cy="386.8" r="1.9" fill="#fff" stroke="#222" stroke-width="0.9"/>
<circle cx="366.44" cy="392.5" r="1.9" fill="#fff" stroke="#222" stroke-width="0.9"/>
<circle cx="370.09" cy="391.2" r="1.9" fill="#fff" stroke="#222" stroke-width="0.9"/>
<circle cx="373.73" cy="395.1" r="1.9" fill="#fff" stroke="#222" stroke-width="0.9"/>
<circle cx="377.38" cy="391.2" r="1.9" fill="#fff" stroke="#222" stroke-width="0.9"/>
<circle cx="381.03" cy="388.6" r="1.9" fill="#fff" stroke="#222" stroke-width="0.9"/>
<circle cx="384.67" cy="391.2" r="1.9" fill="#fff" stroke="#222" stroke-width="0.9"/>
<circle cx="388.32" cy="395.5" r="1.9" fill="#fff" stroke="#222" stroke-width="0.9"/>
<circle cx="391.97" cy="393.2" r="1.9" fill="#fff" stroke="#222" stroke-width="0.9"/>
<circle cx="395.61" cy="396.3" r="1.9" fill="#fff" stroke="#222" stroke-width="0.9"/>
<circle cx="399.26" cy="396.3" r="1.9" fill="#fff" stroke="#222" stroke-width="0.9"/>
<circle cx="402.91" cy="396.3" r="1.9" fill="#fff" stroke="#222" stroke-width="0.9"/>
<circle cx="406.56" cy="394.6" r="1.9" fill="#fff" stroke="#222" stroke-width="0.9"/>
<circle cx="410.20" cy="396" r="1.9" fill="#fff" stroke="#222" stroke-width="0.9"/>
<circle cx="413.85" cy="392" r="1.9" fill="#fff" stroke="#222" stroke-width="0.9"/>
<circle cx="417.50" cy="395.5" r="1.9" fill="#fff" stroke="#222" stroke-width="0.9"/>
<circle cx="421.14" cy="398.9" r="1.9" fill="#fff" stroke="#222" stroke-width="0.9"/>
<circle cx="424.79" cy="398.9" r="1.9" fill="#fff" stroke="#222" stroke-width="0.9"/>
<circle cx="428.44" cy="396.3" r="1.9" fill="#fff" stroke="#222" stroke-width="0.9"/>
<circle cx="432.08" cy="394.6" r="1.9" fill="#fff" stroke="#222" stroke-width="0.9"/>
<circle cx="435.73" cy="398.9" r="1.9" fill="#fff" stroke="#222" stroke-width="0.9"/>
<circle cx="439.38" cy="401.5" r="1.9" fill="#fff" stroke="#222" stroke-width="0.9"/>
<circle cx="443.02" cy="405.9" r="1.9" fill="#fff" stroke="#222" stroke-width="0.9"/>
<circle cx="446.67" cy="409.4" r="1.9" fill="#fff" stroke="#222" stroke-width="0.9"/>
<circle cx="450.32" cy="405.8" r="1.9" fill="#fff" stroke="#222" stroke-width="0.9"/>
<circle cx="453.97" cy="408.8" r="1.9" fill="#fff" stroke="#222" stroke-width="0.9"/>
<circle cx="457.61" cy="410.3" r="1.9" fill="#fff" stroke="#222" stroke-width="0.9"/>
<circle cx="461.26" cy="409.8" r="1.9" fill="#fff" stroke="#222" stroke-width="0.9"/>
<circle cx="464.91" cy="412.1" r="1.9" fill="#fff" stroke="#222" stroke-width="0.9"/>
<circle cx="468.55" cy="412.1" r="1.9" fill="#fff" stroke="#222" stroke-width="0.9"/>
<circle cx="472.20" cy="414.8" r="1.9" fill="#fff" stroke="#222" stroke-width="0.9"/>
<polyline points="293.5,373.1 297.1469387755102,365.8 300.7938775510204,378.8 304.44081632653064,379.8 308.08775510204083,374.2 311.734693877551,372.3 315.3816326530612,376.9 319.0285714285714,377.3 322.67551020408166,381.2 326.32244897959185,383.8 329.96938775510205,369.9 333.61632653061224,377.9 337.26326530612243,380.9 340.9102040816326,374.9 344.5571428571428,370 348.2040816326531,383.1 351.85102040816327,380.8 355.49795918367346,373.8 359.14489795918365,375.8 362.7918367346939,372.3 366.4387755102041,367.6 370.0857142857143,359.3 373.7326530612245,345.4 377.3795918367347,332.1 381.02653061224487,322.9 384.6734693877551,320.8 388.3204081632653,317.4 391.9673469387755,318.1 395.6142857142857,329.8 399.2612244897959,342.3 402.90816326530614,342.8 406.55510204081634,346.3 410.20204081632653,351 413.8489795918367,334.2 417.4959183673469,344.5 421.1428571428571,355.8 424.7897959183673,343.3 428.43673469387755,356.1 432.08367346938775,351.7 435.73061224489794,361.2 439.3775510204082,366 443.0244897959184,361.3 446.6714285714286,365.2 450.31836734693877,366 453.96530612244896,369.3 457.61224489795916,370.3 461.25918367346935,372 464.90612244897954,367.8 468.55306122448974,369.5 472.2,376.5" fill="none" stroke="#111" stroke-width="1.1"/>
<circle cx="293.50" cy="373.1" r="2.2" fill="#111"/>
<circle cx="297.15" cy="365.8" r="2.2" fill="#111"/>
<circle cx="300.79" cy="378.8" r="2.2" fill="#111"/>
<circle cx="304.44" cy="379.8" r="2.2" fill="#111"/>
<circle cx="308.09" cy="374.2" r="2.2" fill="#111"/>
<circle cx="311.73" cy="372.3" r="2.2" fill="#111"/>
<circle cx="315.38" cy="376.9" r="2.2" fill="#111"/>
<circle cx="319.03" cy="377.3" r="2.2" fill="#111"/>
<circle cx="322.68" cy="381.2" r="2.2" fill="#111"/>
<circle cx="326.32" cy="383.8" r="2.2" fill="#111"/>
<circle cx="329.97" cy="369.9" r="2.2" fill="#111"/>
<circle cx="333.62" cy="377.9" r="2.2" fill="#111"/>
<circle cx="337.26" cy="380.9" r="2.2" fill="#111"/>
<circle cx="340.91" cy="374.9" r="2.2" fill="#111"/>
<circle cx="344.56" cy="370" r="2.2" fill="#111"/>
<circle cx="348.20" cy="383.1" r="2.2" fill="#111"/>
<circle cx="351.85" cy="380.8" r="2.2" fill="#111"/>
<circle cx="355.50" cy="373.8" r="2.2" fill="#111"/>
<circle cx="359.14" cy="375.8" r="2.2" fill="#111"/>
<circle cx="362.79" cy="372.3" r="2.2" fill="#111"/>
<circle cx="366.44" cy="367.6" r="2.2" fill="#111"/>
<circle cx="370.09" cy="359.3" r="2.2" fill="#111"/>
<circle cx="373.73" cy="345.4" r="2.2" fill="#111"/>
<circle cx="377.38" cy="332.1" r="2.2" fill="#111"/>
<circle cx="381.03" cy="322.9" r="2.2" fill="#111"/>
<circle cx="384.67" cy="320.8" r="2.2" fill="#111"/>
<circle cx="388.32" cy="317.4" r="2.2" fill="#111"/>
<circle cx="391.97" cy="318.1" r="2.2" fill="#111"/>
<circle cx="395.61" cy="329.8" r="2.2" fill="#111"/>
<circle cx="399.26" cy="342.3" r="2.2" fill="#111"/>
<circle cx="402.91" cy="342.8" r="2.2" fill="#111"/>
<circle cx="406.56" cy="346.3" r="2.2" fill="#111"/>
<circle cx="410.20" cy="351" r="2.2" fill="#111"/>
<circle cx="413.85" cy="334.2" r="2.2" fill="#111"/>
<circle cx="417.50" cy="344.5" r="2.2" fill="#111"/>
<circle cx="421.14" cy="355.8" r="2.2" fill="#111"/>
<circle cx="424.79" cy="343.3" r="2.2" fill="#111"/>
<circle cx="428.44" cy="356.1" r="2.2" fill="#111"/>
<circle cx="432.08" cy="351.7" r="2.2" fill="#111"/>
<circle cx="435.73" cy="361.2" r="2.2" fill="#111"/>
<circle cx="439.38" cy="366" r="2.2" fill="#111"/>
<circle cx="443.02" cy="361.3" r="2.2" fill="#111"/>
<circle cx="446.67" cy="365.2" r="2.2" fill="#111"/>
<circle cx="450.32" cy="366" r="2.2" fill="#111"/>
<circle cx="453.97" cy="369.3" r="2.2" fill="#111"/>
<circle cx="457.61" cy="370.3" r="2.2" fill="#111"/>
<circle cx="461.26" cy="372" r="2.2" fill="#111"/>
<circle cx="464.91" cy="367.8" r="2.2" fill="#111"/>
<circle cx="468.55" cy="369.5" r="2.2" fill="#111"/>
<circle cx="472.20" cy="376.5" r="2.2" fill="#111"/>
<defs>
<radialGradient id="gb" cx="45%" cy="40%" r="60%"><stop offset="0" stop-color="#e8e8e8"/><stop offset="0.6" stop-color="#c8c8c8"/><stop offset="1" stop-color="#7a7a7a"/></radialGradient>
<radialGradient id="gm" cx="45%" cy="40%" r="60%"><stop offset="0" stop-color="#d0d0d0"/><stop offset="0.7" stop-color="#9a9a9a"/><stop offset="1" stop-color="#5a5a5a"/></radialGradient>
<radialGradient id="gd" cx="50%" cy="50%" r="60%"><stop offset="0" stop-color="#777"/><stop offset="0.7" stop-color="#555"/><stop offset="1" stop-color="#3a3a3a"/></radialGradient>
<radialGradient id="gv" cx="50%" cy="50%" r="60%"><stop offset="0" stop-color="#4a4a4a"/><stop offset="0.8" stop-color="#3d3d3d"/><stop offset="1" stop-color="#2c2c2c"/></radialGradient>
</defs>
<defs><linearGradient id="lg1" x1="0" y1="0" x2="1" y2="0.3"><stop offset="0" stop-color="#e4e4e4"/><stop offset="0.55" stop-color="#c4c4c4"/><stop offset="1" stop-color="#6a6a6a"/></linearGradient></defs>
<rect x="296.1" y="333.1" width="22" height="19" fill="#2c2c2c"/>
<circle cx="306.7" cy="343.2" r="7.4" fill="#1c1c1c"/>
<g filter="url(#bl2)"><circle cx="306.7" cy="343.2" r="6.8" fill="url(#lg1)"/><circle cx="302.6" cy="340.6" r="1.3" fill="#333"/><circle cx="306.4" cy="341.6" r="1.2" fill="#444"/><circle cx="305.8" cy="347.2" r="1.4" fill="#555"/><circle cx="310.5" cy="345" r="1.6" fill="#999"/><circle cx="304" cy="344.5" r="1.6" fill="#f0f0f0"/><circle cx="309" cy="339" r="1.3" fill="#ddd"/><circle cx="311.5" cy="341" r="1.0" fill="#555"/></g>
<rect x="296.2" y="388.7" width="22.8" height="19.1" fill="#2a2a2a"/>
<g filter="url(#bl2)"><ellipse cx="305.6" cy="398" rx="7" ry="7.8" fill="#1a1a1a"/><ellipse cx="305.6" cy="398" rx="6.3" ry="7.1" fill="#5a5a5a"/><path d="M303,391.2 C305.5,393.5 304,397.5 305,400.5 C305.8,402.5 307.5,403.5 307.8,404.8" fill="none" stroke="#e8e8e8" stroke-width="3"/><circle cx="310.6" cy="395.6" r="2.3" fill="#d0d0d0"/><circle cx="301.2" cy="397" r="1.6" fill="#a8a8a8"/><circle cx="302.5" cy="401.5" r="1.4" fill="#999"/><circle cx="306.6" cy="395.8" r="1.3" fill="#333"/><circle cx="310.8" cy="401" r="1.6" fill="#333"/></g>
<rect x="357.9" y="276.9" width="22.9" height="19.1" fill="#2e2e2e"/>
<clipPath id="cc1"><circle cx="369.7" cy="286.8" r="6.9"/></clipPath>
<circle cx="369.7" cy="286.8" r="7.5" fill="#444"/>
<g clip-path="url(#cc1)"><g filter="url(#bl2)">
<circle cx="369.7" cy="286.8" r="6.9" fill="#c8c8c8"/>
<circle cx="366.49" cy="283.68" r="2.23" fill="#8a8a8a"/>
<circle cx="369.37" cy="281.59" r="0.85" fill="#f2f2f2"/>
<circle cx="373.52" cy="285.38" r="2.42" fill="#f2f2f2"/>
<circle cx="367.67" cy="287.20" r="1.78" fill="#8a8a8a"/>
<circle cx="371.59" cy="286.96" r="1.30" fill="#8a8a8a"/>
<circle cx="369.85" cy="285.28" r="2.23" fill="#f2f2f2"/>
<circle cx="368.74" cy="285.93" r="0.80" fill="#8a8a8a"/>
<circle cx="370.18" cy="288.62" r="2.57" fill="#8a8a8a"/>
<circle cx="368.39" cy="292.01" r="1.77" fill="#8a8a8a"/>
<circle cx="371.18" cy="291.88" r="2.04" fill="#8a8a8a"/>
<circle cx="371.56" cy="285.33" r="1.45" fill="#f2f2f2"/>
<circle cx="370.20" cy="287.45" r="1.34" fill="#8a8a8a"/>
</g></g>
<rect x="413.2" y="300" width="22.8" height="18.5" fill="#2e2e2e"/>
<clipPath id="cc2"><circle cx="425.3" cy="309.3" r="7.7"/></clipPath>
<circle cx="425.3" cy="309.3" r="8.3" fill="#1a1a1a"/>
<g clip-path="url(#cc2)"><g filter="url(#bl2)">
<circle cx="425.3" cy="309.3" r="7.7" fill="#b4b4b4"/>
<circle cx="426.17" cy="315.23" r="1.03" fill="#505050"/>
<circle cx="427.29" cy="310.48" r="2.60" fill="#f0f0f0"/>
<circle cx="423.06" cy="306.52" r="1.62" fill="#f0f0f0"/>
<circle cx="427.22" cy="314.36" r="0.96" fill="#f0f0f0"/>
<circle cx="427.72" cy="309.61" r="1.53" fill="#505050"/>
<circle cx="424.33" cy="310.23" r="1.27" fill="#505050"/>
<circle cx="429.37" cy="311.00" r="1.48" fill="#505050"/>
<circle cx="422.79" cy="313.34" r="1.70" fill="#505050"/>
<circle cx="428.73" cy="306.85" r="1.06" fill="#f0f0f0"/>
<circle cx="428.82" cy="308.06" r="1.15" fill="#505050"/>
<circle cx="420.96" cy="306.95" r="2.39" fill="#f0f0f0"/>
<circle cx="421.81" cy="313.71" r="1.04" fill="#505050"/>
<circle cx="429.19" cy="312.04" r="2.06" fill="#505050"/>
<circle cx="427.41" cy="306.13" r="1.16" fill="#f0f0f0"/>
</g></g>
<rect x="381.5" y="398.3" width="23.3" height="19.0" fill="#2a2a2a"/>
<clipPath id="cc3"><circle cx="393.5" cy="408.1" r="7.3"/></clipPath>
<circle cx="393.5" cy="408.1" r="7.8999999999999995" fill="#1a1a1a"/>
<g clip-path="url(#cc3)"><g filter="url(#bl2)">
<circle cx="393.5" cy="408.1" r="7.3" fill="#6a6a6a"/>
<circle cx="389.78" cy="409.25" r="2.46" fill="#a0a0a0"/>
<circle cx="389.48" cy="407.90" r="1.13" fill="#a0a0a0"/>
<circle cx="390.10" cy="404.48" r="0.97" fill="#a0a0a0"/>
<circle cx="397.74" cy="410.82" r="2.05" fill="#a0a0a0"/>
<circle cx="399.16" cy="407.46" r="1.98" fill="#3a3a3a"/>
<circle cx="393.67" cy="408.36" r="1.75" fill="#a0a0a0"/>
<circle cx="394.29" cy="410.11" r="0.85" fill="#a0a0a0"/>
<circle cx="388.68" cy="409.99" r="1.73" fill="#3a3a3a"/>
<circle cx="389.12" cy="408.11" r="1.62" fill="#a0a0a0"/>
<circle cx="399.32" cy="408.01" r="2.31" fill="#3a3a3a"/>
<circle cx="392.67" cy="410.01" r="1.32" fill="#a0a0a0"/>
<circle cx="393.81" cy="405.04" r="2.32" fill="#a0a0a0"/>
</g></g>
<rect x="477.1" y="360.2" width="22.9" height="18.9" fill="#3a3a3a"/>
<clipPath id="cc4"><circle cx="488.8" cy="369.8" r="6.6"/></clipPath>
<circle cx="488.8" cy="369.8" r="7.199999999999999" fill="#1a1a1a"/>
<g clip-path="url(#cc4)"><g filter="url(#bl2)">
<circle cx="488.8" cy="369.8" r="6.6" fill="#9c9c9c"/>
<circle cx="488.57" cy="373.85" r="2.03" fill="#505050"/>
<circle cx="489.54" cy="371.54" r="1.06" fill="#e0e0e0"/>
<circle cx="488.67" cy="368.54" r="1.76" fill="#e0e0e0"/>
<circle cx="487.99" cy="372.62" r="2.31" fill="#505050"/>
<circle cx="490.93" cy="369.99" r="1.06" fill="#505050"/>
<circle cx="490.46" cy="365.58" r="2.29" fill="#505050"/>
<circle cx="493.07" cy="368.39" r="1.26" fill="#505050"/>
<circle cx="484.48" cy="370.16" r="1.82" fill="#e0e0e0"/>
<circle cx="486.88" cy="372.00" r="1.36" fill="#e0e0e0"/>
<circle cx="490.71" cy="365.72" r="2.57" fill="#505050"/>
<circle cx="484.74" cy="368.36" r="1.04" fill="#505050"/>
<circle cx="487.33" cy="370.35" r="1.16" fill="#e0e0e0"/>
</g></g>
<rect x="476.5" y="399" width="22.5" height="18.2" fill="#262626"/>
<clipPath id="cc5"><circle cx="487.6" cy="408.1" r="7.0"/></clipPath>
<circle cx="487.6" cy="408.1" r="7.6" fill="#202020"/>
<g clip-path="url(#cc5)"><g filter="url(#bl2)">
<circle cx="487.6" cy="408.1" r="7.0" fill="#3c3c3c"/>
<circle cx="482.83" cy="407.44" r="2.53" fill="#555"/>
<circle cx="488.04" cy="403.74" r="1.99" fill="#555"/>
<circle cx="490.43" cy="408.58" r="2.14" fill="#555"/>
<circle cx="485.09" cy="408.07" r="2.32" fill="#2a2a2a"/>
<circle cx="483.04" cy="411.34" r="0.91" fill="#2a2a2a"/>
<circle cx="488.66" cy="407.05" r="2.07" fill="#2a2a2a"/>
<circle cx="489.40" cy="407.58" r="1.77" fill="#2a2a2a"/>
<circle cx="486.02" cy="406.22" r="0.95" fill="#2a2a2a"/>
<circle cx="482.09" cy="409.01" r="1.05" fill="#2a2a2a"/>
<circle cx="489.65" cy="403.23" r="0.83" fill="#555"/>
</g></g>
</svg>
</body></html>
